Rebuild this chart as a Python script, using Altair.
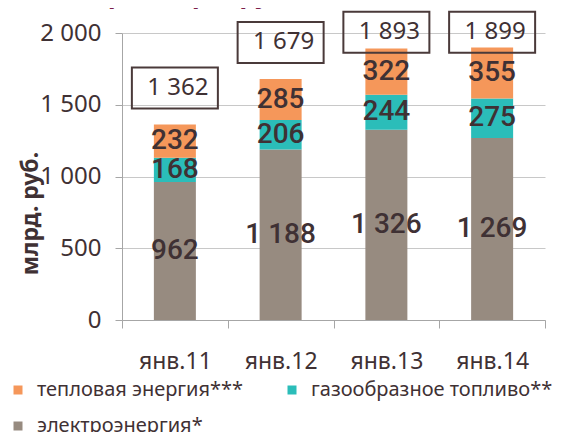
import altair as alt
import pandas as pd

months = ["янв.11", "янв.12", "янв.13", "янв.14"]
electricity = [962, 1188, 1326, 1269]
gas = [168, 206, 244, 275]
heat = [232, 285, 322, 355]
totals = [1362, 1679, 1893, 1899]

series_names = ["тепловая энергия***", "газообразное топливо**", "электроэнергия*"]
series_colors = ["#F5975A", "#2BBDB9", "#978B80"]

rows = []
for i, m in enumerate(months):
    rows.append({"month": m, "series": series_names[2], "value": electricity[i], "ord": 0})
    rows.append({"month": m, "series": series_names[1], "value": gas[i], "ord": 1})
    rows.append({"month": m, "series": series_names[0], "value": heat[i], "ord": 2})
df = pd.DataFrame(rows)
tot = pd.DataFrame({"month": months, "total": totals})

FONT = "Noto Sans"
TXT = "#3F3134"

xenc = alt.X("month:N", sort=months,
             scale=alt.Scale(paddingInner=0, paddingOuter=0),
             axis=alt.Axis(title=None, labelAngle=0, labelFontSize=23, labelFont=FONT,
                           labelColor=TXT, tickSize=8, tickBand="extent", labelPadding=22,
                           domainColor="#A6A6A6", tickColor="#A6A6A6", grid=False))

yscale = alt.Scale(domain=[0, 2000], nice=False)

base = alt.Chart(df).transform_stack(
    stack="value", groupby=["month"], sort=[alt.SortField("ord", order="ascending")],
    as_=["y0", "y1"]
).transform_calculate(mid="(datum.y0 + datum.y1) / 2")

bars = base.mark_bar(size=42).encode(
    x=xenc,
    y=alt.Y("y0:Q", scale=yscale,
            axis=alt.Axis(values=[0, 500, 1000, 1500, 2000],
                          labelExpr="replace(format(datum.value, ','), ',', ' ')",
                          labelFontSize=24, labelFont=FONT, labelColor=TXT, labelPadding=14,
                          tickSize=7, tickColor="#A6A6A6", domainColor="#A6A6A6",
                          gridColor="#C8C8C8", title="млрд. руб.", titleFont=FONT,
                          titleFontSize=23, titleFontWeight="bold", titleColor=TXT,
                          titleAngle=270, titleX=-92, titleY=180, titleAlign="center",
                          titleBaseline="middle")),
    y2="y1:Q",
    color=alt.Color("series:N",
                    scale=alt.Scale(domain=series_names, range=series_colors),
                    legend=alt.Legend(orient="none", legendX=-114, legendY=347,
                                      direction="horizontal", columns=2, title=None,
                                      symbolType="square", symbolSize=81,
                                      symbolStrokeWidth=0, labelFont=FONT,
                                      labelFontSize=20, labelColor=TXT, labelOffset=9,
                                      columnPadding=38, rowPadding=16, labelLimit=0,
                                      padding=0)),
    order=alt.Order("ord:Q"),
)

seg_text = base.mark_text(font="Roboto", fontSize=28, fontWeight=500, color=TXT,
                          baseline="middle").encode(
    x=alt.X("month:N", sort=months),
    y=alt.Y("mid:Q", scale=yscale),
    text=alt.Text("label:N"),
).transform_calculate(label="replace(format(datum.value, ','), ',', ' ')")

tbase = alt.Chart(tot).transform_calculate(
    ly="min(datum.total + 255, 2005)",
    label="replace(format(datum.total, ','), ',', ' ')",
)

boxes = tbase.mark_point(shape="M-1,-0.477L1,-0.477L1,0.477L-1,0.477Z", size=7396,
                         filled=False, stroke="#4A3A3A", strokeWidth=2, opacity=1).encode(
    x=alt.X("month:N", sort=months),
    y=alt.Y("ly:Q", scale=yscale),
)

box_text = tbase.mark_text(font=FONT, fontSize=24, color=TXT, baseline="middle", dx=3).encode(
    x=alt.X("month:N", sort=months),
    y=alt.Y("ly:Q", scale=yscale),
    text="label:N",
)

chart = alt.layer(bars, seg_text, boxes, box_text).properties(
    width=423, height=287,
    autosize=alt.AutoSizeParams(type="none"),
    padding={"left": 114, "top": 25, "right": 9, "bottom": 112},
    title=alt.TitleParams("Январь, млрд. руб.", anchor="start", frame="group",
                          font=FONT, fontSize=26, fontWeight="bold", color="#7B1E4A",
                          dx=-80, offset=0),
).configure_view(stroke=None)

chart.save("out.html", embed_options={"renderer": "svg", "actions": False})
